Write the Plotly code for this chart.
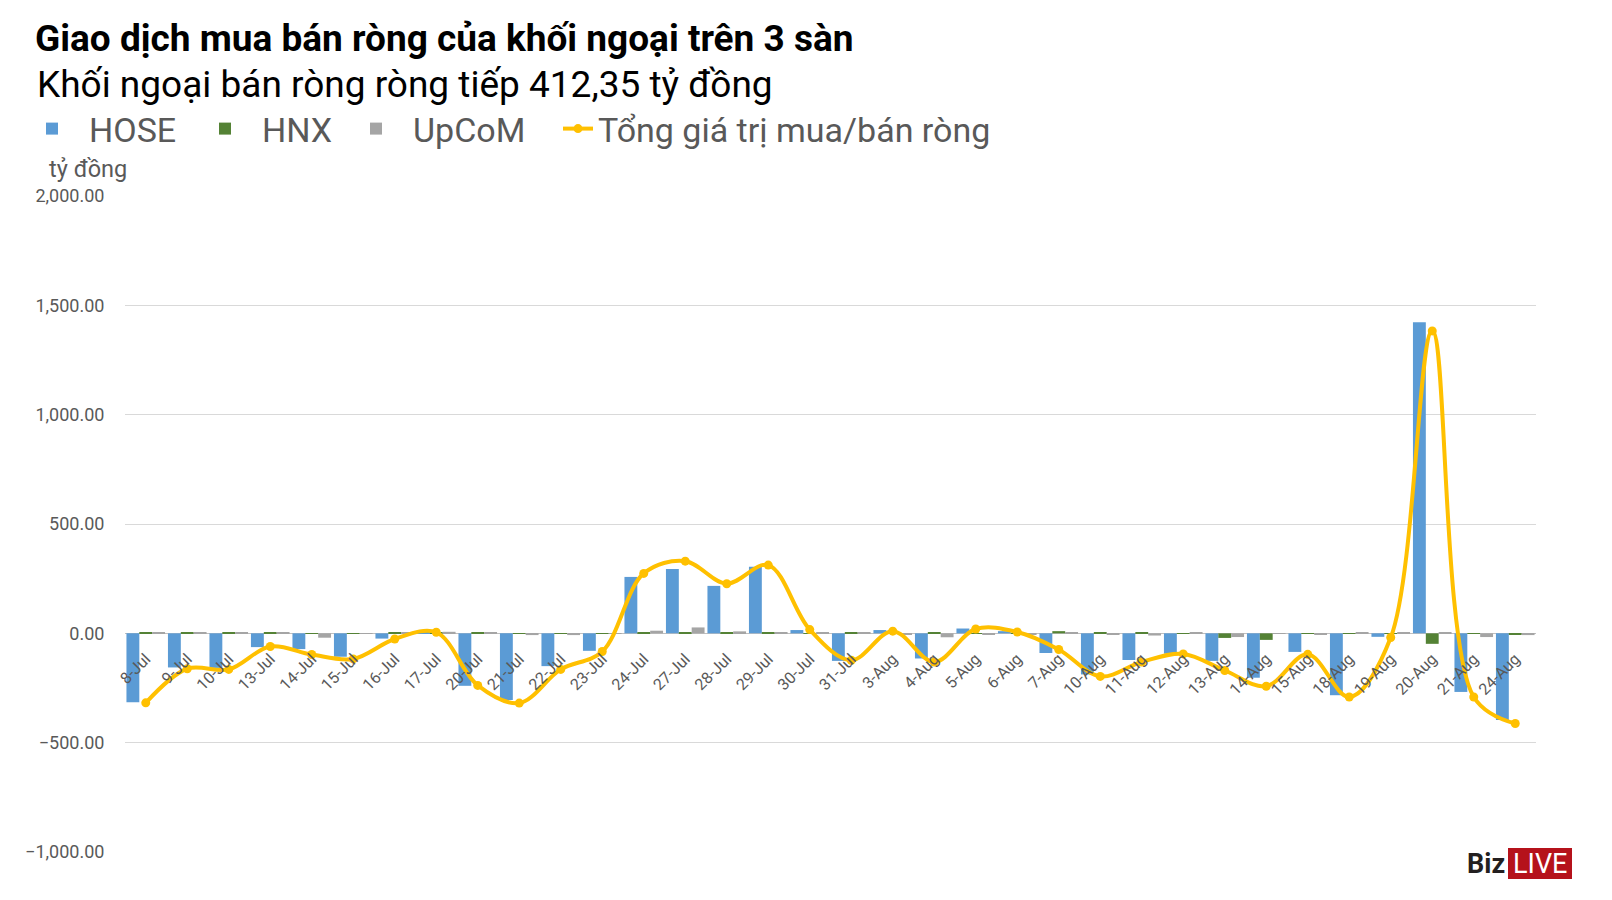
import plotly.graph_objects as go

dates = ["8-Jul", "9-Jul", "10-Jul", "13-Jul", "14-Jul", "15-Jul", "16-Jul", "17-Jul",
         "20-Jul", "21-Jul", "22-Jul", "23-Jul", "24-Jul", "27-Jul", "28-Jul", "29-Jul",
         "30-Jul", "31-Jul", "3-Aug", "4-Aug", "5-Aug", "6-Aug", "7-Aug", "10-Aug",
         "11-Aug", "12-Aug", "13-Aug", "14-Aug", "15-Aug", "18-Aug", "19-Aug", "20-Aug",
         "21-Aug", "24-Aug"]

hose = [-315, -156, -158, -63, -72, -107, -24, 2, -240, -305, -150, -80, 258, 294, 217, 305,
        15, -126, 15, -115, 22, 10, -90, -188, -122, -93, -126, -203, -85, -283, -16, 1423,
        -268, -396]
hnx = [2, 2, 4, 2, 1, 1, 3, 2, 2, -2, 1, -2, 2, 2, 2, 2,
       -3, 2, 3, 2, -2, -3, 10, 2, 3, -2, -21, -30, -3, -3, -2, -48,
       -2, -6]
upcom = [2, 4, 2, 3, -20, 1, 2, 7, 3, -8, -8, 1, 12, 27, 9, 3,
         3, 2, -4, -18, -5, -4, 2, -6, -10, 2, -17, -2, -4, 2, 3, 2,
         -17, -8]
total = [-318, -162, -165, -60, -97, -117, -26, 5, -238, -319, -165, -83, 274, 330, 227, 312,
         17, -123, 10, -131, 20, 6, -74, -197, -131, -94, -170, -242, -96, -291, -19, 1383,
         -291, -412.35]

y_ticks = [-1000, -500, 0, 500, 1000, 1500, 2000]

W, H = 1612, 900
L, R, T, B = 125, 76, 196, 48
PW, PH = W - L - R, H - T - B


def px_x(p):
    return (p - L) / PW


def px_y(p):
    return (H - B - p) / PH


FONT = "Roboto"
GREY_TXT = "#595959"

fig = go.Figure()
fig.add_trace(go.Bar(name="HOSE", x=dates, y=hose, legend="legend", showlegend=True,
                     marker=dict(color="#5B9BD5", line=dict(width=0))))
fig.add_trace(go.Bar(name="HNX", x=dates, y=hnx, legend="legend2", showlegend=True,
                     marker=dict(color="#548235", line=dict(width=0))))
fig.add_trace(go.Bar(name="UpCoM", x=dates, y=upcom, legend="legend3", showlegend=True,
                     marker=dict(color="#A5A5A5", line=dict(width=0))))
fig.add_trace(go.Scatter(name="Tổng giá trị mua/bán ròng", x=dates, y=total, legend="legend4",
                         showlegend=True, mode="lines+markers",
                         line=dict(color="#FFC000", width=4, shape="spline", smoothing=1.0),
                         marker=dict(color="#FFC000", size=9)))


def leg(xpx, iw):
    return dict(orientation="h", xref="container", yref="container",
                x=xpx / W, y=1 - 129 / H, xanchor="left", yanchor="middle",
                font=dict(family=FONT, size=34, color=GREY_TXT),
                itemwidth=iw, bgcolor="rgba(0,0,0,0)", visible=True)


fig.update_layout(
    width=W, height=H,
    showlegend=True,
    margin=dict(l=L, r=R, t=T, b=B),
    paper_bgcolor="white", plot_bgcolor="white",
    barmode="group", bargap=0.07, bargroupgap=0,
    font=dict(family=FONT, color=GREY_TXT),
    title=dict(text="<b>Giao dịch mua bán ròng của khối ngoại trên 3 sàn</b>",
               font=dict(family=FONT, size=37, color="#000000"),
               xref="container", yref="container", x=35 / W, y=1 - 38 / H,
               xanchor="left", yanchor="middle"),
    legend=leg(15, 64),
    legend2=leg(188, 64),
    legend3=leg(339, 64),
    legend4=leg(558, 30),
    xaxis=dict(type="category", anchor="free", position=1 / 3,
               range=[-0.5, len(dates) - 0.5],
               tickangle=-45, tickfont=dict(family=FONT, size=16, color=GREY_TXT),
               showgrid=False, showline=False, zeroline=False,
               ticks="outside", ticklen=9, tickcolor="rgba(0,0,0,0)"),
    yaxis=dict(range=[-1000, 2000], tickvals=y_ticks, tickformat=",.2f",
               gridcolor="#D9D9D9", gridwidth=1,
               zeroline=True, zerolinecolor="#BFBFBF", zerolinewidth=1,
               showline=False,
               tickfont=dict(family=FONT, size=18, color=GREY_TXT),
               ticks="outside", ticklen=16, tickcolor="rgba(0,0,0,0)"),
    hovermode="x",
)

annotations = [
    dict(text="Khối ngoại bán ròng ròng tiếp 412,35 tỷ đồng", xref="paper", yref="paper",
         x=px_x(35), y=px_y(84), xanchor="left", yanchor="middle", showarrow=False,
         font=dict(family=FONT, size=37, color="#000000")),
    dict(text="tỷ đồng", xref="paper", yref="paper",
         x=px_x(47), y=px_y(169), xanchor="left", yanchor="middle", showarrow=False,
         font=dict(family=FONT, size=23.5, color=GREY_TXT)),
    dict(text="<b>Biz</b>", xref="paper", yref="paper",
         x=px_x(1507), y=px_y(864), xanchor="right", yanchor="middle", showarrow=False,
         font=dict(family=FONT, size=27, color="#231F20")),
    dict(text="LIVE", xref="paper", yref="paper",
         x=px_x(1540), y=px_y(864), xanchor="center", yanchor="middle", showarrow=False,
         font=dict(family=FONT, size=27, color="#FFFFFF")),
]
fig.update_layout(annotations=annotations)

fig.update_layout(shapes=[
    dict(type="rect", xref="paper", yref="paper", layer="above",
         x0=px_x(1464), x1=px_x(1576), y0=px_y(882), y1=px_y(845),
         fillcolor="white", line=dict(width=0)),
    dict(type="rect", xref="paper", yref="paper", layer="above",
         x0=px_x(1508), x1=px_x(1572), y0=px_y(879), y1=px_y(848),
         fillcolor="#B5121B", line=dict(width=0)),
])

fig.write_html("out.html")
